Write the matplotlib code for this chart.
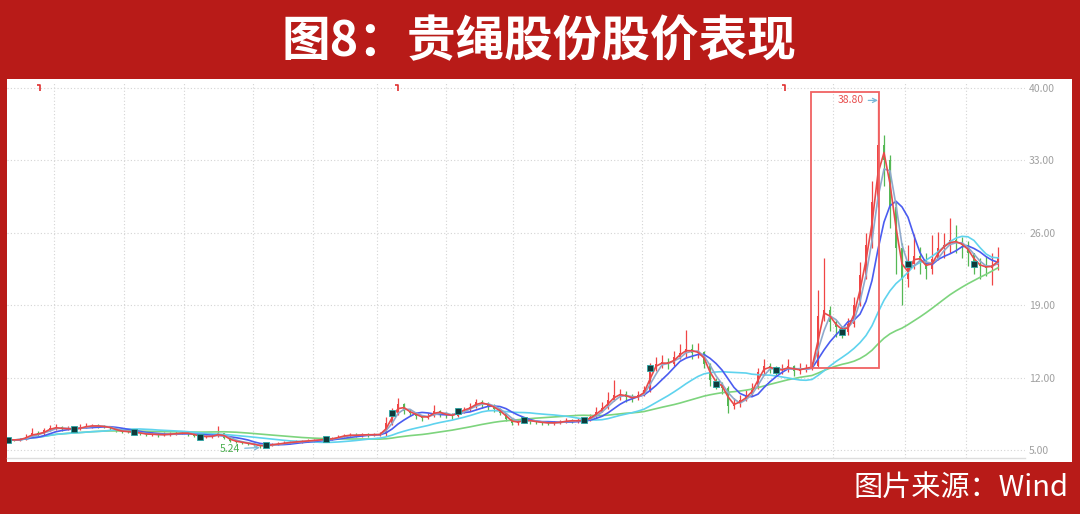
import numpy as np
import pandas as pd
import matplotlib
matplotlib.use("Agg")
import matplotlib.pyplot as plt
from matplotlib.patches import Rectangle
from matplotlib.path import Path

plt.rcParams['font.family'] = ['Noto Sans CJK SC', 'DejaVu Sans']

# Price data (roughly weekly bars)
closes = [
    6.00, 5.95, 6.05, 6.30, 6.60, 6.50, 6.90, 7.10, 7.20, 7.00,
    7.10, 7.00, 7.20, 7.30, 7.35, 7.30, 7.25, 7.10, 6.85, 6.80,
    6.75, 6.70, 6.60, 6.50, 6.55, 6.45, 6.50, 6.55, 6.60, 6.65,
    6.60, 6.40, 6.30, 6.30, 6.35, 6.60, 6.20, 5.90, 5.80, 5.70,
    5.60, 5.50, 5.35, 5.45, 5.55, 5.60, 5.70, 5.75, 5.80, 5.85,
    5.90, 5.95, 6.00, 6.05, 6.10, 6.30, 6.40, 6.45, 6.40, 6.50,
    6.45, 6.50, 6.50, 7.60, 8.60, 9.40, 8.80, 8.60, 8.30, 8.10,
    8.30, 8.80, 8.50, 8.40, 8.30, 8.80, 8.90, 9.20, 9.60, 9.50,
    9.30, 9.00, 8.60, 8.00, 7.60, 7.80, 7.90, 7.80, 7.70, 7.65,
    7.60, 7.65, 7.70, 7.85, 7.80, 7.85, 7.90, 8.20, 8.70, 9.10,
    9.80, 10.30, 10.40, 10.10, 10.00, 10.30, 10.80, 12.90, 13.30, 13.50,
    13.30, 14.00, 14.40, 14.80, 14.40, 14.50, 13.30, 11.80, 11.40, 11.00,
    9.30, 9.50, 9.80, 10.30, 11.00, 12.50, 13.10, 12.90, 12.70, 12.80,
    13.10, 12.60, 12.90, 12.90, 13.10, 18.00, 18.50, 17.40, 16.90, 16.40,
    17.20, 19.00, 21.90, 24.80, 29.00, 34.50, 33.00, 28.50, 24.50, 21.50,
    23.00, 23.80, 23.20, 22.50, 23.50, 24.50, 24.80, 25.30, 25.00, 24.80,
    24.00, 23.00, 22.80, 22.60, 22.90, 23.60]

highs = [
    6.10, 6.10, 6.20, 6.50, 7.10, 6.80, 7.10, 7.40, 7.50, 7.30,
    7.30, 7.20, 7.50, 7.60, 7.55, 7.50, 7.45, 7.30, 7.10, 6.95,
    6.90, 6.85, 6.80, 6.70, 6.70, 6.60, 6.70, 6.75, 6.80, 6.85,
    6.75, 6.65, 6.45, 6.45, 6.50, 7.30, 6.65, 6.30, 6.00, 5.90,
    5.80, 5.65, 5.55, 5.60, 5.70, 5.75, 5.85, 5.90, 5.95, 6.00,
    6.05, 6.10, 6.15, 6.20, 6.25, 6.45, 6.55, 6.65, 6.60, 6.65,
    6.60, 6.65, 6.70, 8.20, 9.10, 10.00, 9.50, 9.00, 8.70, 8.40,
    8.60, 9.35, 8.90, 8.70, 8.60, 9.10, 9.20, 9.50, 9.90, 9.80,
    9.60, 9.40, 9.10, 8.60, 8.10, 8.00, 8.10, 8.00, 7.90, 7.85,
    7.80, 7.85, 7.90, 8.05, 8.00, 8.05, 8.10, 8.50, 9.20, 9.60,
    10.60, 11.80, 10.90, 10.70, 10.40, 10.70, 11.20, 13.40, 14.00, 14.20,
    13.90, 14.60, 15.20, 16.60, 15.20, 15.30, 14.60, 13.40, 12.00, 11.60,
    11.20, 10.00, 10.30, 10.80, 11.50, 12.90, 13.80, 13.40, 13.10, 13.30,
    13.80, 13.20, 13.40, 13.30, 13.50, 20.50, 23.60, 18.90, 17.60, 17.00,
    17.80, 19.80, 23.20, 26.00, 31.00, 38.80, 35.50, 33.50, 29.00, 25.00,
    24.80, 25.90, 24.60, 24.00, 25.80, 26.10, 26.00, 27.40, 26.80, 25.60,
    25.20, 24.00, 23.60, 23.80, 24.00, 24.60]

lows = [
    5.90, 5.85, 5.90, 6.00, 6.25, 6.35, 6.45, 6.80, 6.95, 6.85,
    6.90, 6.85, 6.95, 7.10, 7.15, 7.15, 7.10, 6.95, 6.70, 6.65,
    6.60, 6.55, 6.45, 6.35, 6.40, 6.30, 6.35, 6.40, 6.45, 6.50,
    6.40, 6.25, 6.15, 6.15, 6.20, 6.25, 6.05, 5.80, 5.65, 5.55,
    5.45, 5.35, 5.24, 5.30, 5.40, 5.45, 5.55, 5.60, 5.65, 5.70,
    5.75, 5.80, 5.85, 5.90, 5.95, 6.05, 6.20, 6.30, 6.25, 6.30,
    6.30, 6.35, 6.35, 6.40, 7.40, 8.40, 8.50, 8.30, 8.00, 7.80,
    7.95, 8.20, 8.20, 8.10, 8.00, 8.20, 8.60, 8.80, 9.10, 9.10,
    8.90, 8.70, 8.40, 7.80, 7.40, 7.45, 7.60, 7.55, 7.50, 7.45,
    7.40, 7.45, 7.50, 7.60, 7.60, 7.65, 7.70, 7.80, 8.10, 8.70,
    9.00, 9.70, 9.80, 9.60, 9.60, 9.80, 10.20, 10.60, 12.60, 12.90,
    12.80, 13.10, 13.80, 14.00, 13.80, 13.90, 12.90, 11.20, 10.90, 10.40,
    8.55, 9.00, 9.20, 9.70, 10.20, 10.90, 12.30, 12.40, 12.20, 12.30,
    12.50, 12.20, 12.30, 12.50, 12.70, 13.00, 17.50, 16.50, 15.90, 15.80,
    16.10, 16.90, 18.90, 21.50, 24.50, 28.50, 30.50, 26.50, 22.00, 19.00,
    20.80, 22.50, 22.00, 21.50, 22.00, 23.40, 23.60, 24.00, 24.00, 23.60,
    22.80, 22.00, 21.50, 21.80, 21.00, 22.40]

# moving average windows (in bars) and their colours
ma_windows = [33, 17, 6, 3, 2]
ma_colors = ['#7dd47d', '#5fd3ee', '#4a5cf0', '#8fa9cc', '#e84a4a']

# quarter boundaries (bar index) used for the vertical grid
period_breaks = [7.67, 19.33, 29.33, 40.83, 50.83, 61.5, 73.0, 84.17, 94.5,
                 105.67, 116.17, 126.5, 137.5, 149.5, 159.67]
# bars carrying the small square signal markers
signal_bars = [0, 11, 21, 32, 43, 53, 64, 75, 86, 96, 107, 118, 128, 139, 150, 161]
# small red event flags along the top
event_bars = [5.3, 65, 129.5]
rally_start = 134
yticks = [5, 12, 19, 26, 33, 40]

closes = np.array(closes)
highs = np.array(highs)
lows = np.array(lows)
opens = np.r_[closes[0], closes[:-1]]
highs = np.maximum(highs, np.maximum(opens, closes))
lows = np.minimum(lows, np.minimum(opens, closes))
idx = np.arange(len(closes))

red, green = '#f04545', '#55b855'
colors = [red if c >= o else green for o, c in zip(opens, closes)]

fig = plt.figure(figsize=(10.8, 5.14), dpi=100, facecolor='#B81B18')

# white panel
panel = fig.add_axes([0.00648, 0.10117, 0.98611, 0.74513])
panel.set_facecolor('white')
panel.set_xticks([])
panel.set_yticks([])
for s in panel.spines.values():
    s.set_visible(False)

ax = fig.add_axes([0.00648, 0.10895, 0.94259, 0.73152])
ax.patch.set_alpha(0)

# candles
ax.vlines(idx, lows, highs, colors=colors, lw=0.9, zorder=2)
body = np.abs(closes - opens)
body = np.where(body < 0.05, 0.05, body)
ax.bar(idx, body, bottom=np.minimum(opens, closes), width=0.45,
       color=colors, linewidth=0, zorder=2)

# moving averages
s = pd.Series(closes)
for w, col in zip(ma_windows, ma_colors):
    ax.plot(idx, s.rolling(w, min_periods=1).mean(), color=col, lw=1.2, zorder=3)

# signal markers
sb = np.array(signal_bars)
ax.plot(sb, closes[sb], 's', ms=4, mfc='#0e3b3b', mec='#2aa6a6', mew=0.6, zorder=4)

# event flags at top
flag = Path([(-1, 1), (0, 1), (0, -1)], [Path.MOVETO, Path.LINETO, Path.LINETO])
ax.plot(event_bars, [0.985] * len(event_bars), linestyle='none', marker=flag,
        ms=5, mec='#e03030', mfc='none', mew=1.2,
        transform=ax.get_xaxis_transform(), clip_on=False, zorder=4)

# rally box
imax = int(np.argmax(highs))
hmax = highs[imax]
base = closes[rally_start - 1]
ax.add_patch(Rectangle((rally_start - 0.2, base), imax - rally_start + 0.4,
                       hmax * 1.02 - base, fill=False, ec='#f06262', lw=1.3, zorder=5))

# high / low annotations
imin = int(np.argmin(lows))
ax.annotate(f"{hmax:.2f}", xy=(imax, hmax), xytext=(-10, 0), textcoords='offset points',
            ha='right', va='center', fontsize=7.5, color='#e85050',
            arrowprops=dict(arrowstyle='->', color='#7ab8d8', lw=0.9, shrinkA=1, shrinkB=0),
            zorder=6)
ax.annotate(f"{lows[imin]:.2f}", xy=(imin, lows[imin]), xytext=(-14, -1), textcoords='offset points',
            ha='right', va='center', fontsize=7.5, color='#4caf50',
            arrowprops=dict(arrowstyle='->', color='#7ab8d8', lw=0.9, shrinkA=1, shrinkB=0),
            zorder=6)

# axes styling
ax.set_xlim(-0.17, 169.5)
ax.set_ylim(4.226, 40.58)
ax.set_xticks(period_breaks)
ax.set_xticklabels([])
ax.set_yticks(yticks)
ax.yaxis.tick_right()
ax.yaxis.set_major_formatter(matplotlib.ticker.FormatStrFormatter('%.2f'))
ax.tick_params(axis='both', length=0)
ax.tick_params(axis='y', labelsize=7.5, labelcolor='#a0a0a0', pad=3)
ax.grid(True, color='#d4d4d4', lw=0.8, linestyle=(0, (1, 2)))
for side in ['top', 'left', 'right']:
    ax.spines[side].set_visible(False)
ax.spines['bottom'].set_color('#dddddd')
ax.spines['bottom'].set_linewidth(1.0)

# title and source
fig.text(0.499, 0.918, "图8：贵绳股份股价表现", color='white', fontsize=35,
         fontweight='black', ha='center', va='center')
fig.text(0.989, 0.051, "图片来源：Wind", color='white', fontsize=21,
         fontweight='medium', ha='right', va='center')

fig.savefig('out.png', dpi=100, facecolor=fig.get_facecolor())
